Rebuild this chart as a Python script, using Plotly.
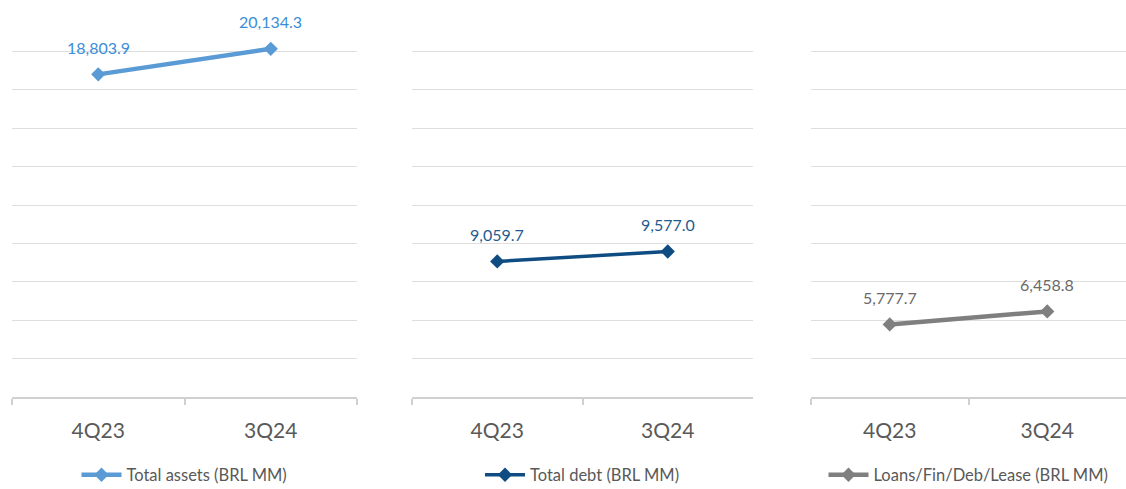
import plotly.graph_objects as go

# Quarter labels and the three balance-sheet series (BRL MM)
quarters = ["4Q23", "3Q24"]
total_assets = [18803.9, 20134.3]
total_debt = [9059.7, 9577.0]
loans_fin_deb_lease = [5777.7, 6458.8]

series_names = ["Total assets (BRL MM)", "Total debt (BRL MM)", "Loans/Fin/Deb/Lease (BRL MM)"]
series_values = [total_assets, total_debt, loans_fin_deb_lease]
line_colors = ["#5B9BD5", "#0E4C82", "#7F7F7F"]
label_colors = ["#3A8DD8", "#1F5B8F", "#6A6A6A"]
line_widths = [4.5, 3.5, 4.5]

W, H = 1126, 489
panels_px = [(12, 357), (412, 753), (811, 1126)]
plot_top_px, plot_bottom_px = 13, 397

FONT = "Lato, 'Open Sans', sans-serif"

fig = go.Figure()
y_dom = [(H - plot_bottom_px) / H, (H - plot_top_px) / H]

for i, (name, vals, lc, tc, lw) in enumerate(zip(series_names, series_values, line_colors, label_colors, line_widths)):
    n = "" if i == 0 else str(i + 1)
    legend_id = "legend" + n
    fig.add_trace(go.Scatter(
        x=quarters, y=vals, name=name, mode="lines+markers",
        line=dict(color=lc, width=lw),
        marker=dict(symbol="diamond", size=11, color=lc),
        xaxis="x" + n, yaxis="y" + n, legend=legend_id,
        hoverinfo="skip",
    ))
    for q, v in zip(quarters, vals):
        fig.add_annotation(
            x=q, y=v, xref="x" + n, yref="y" + n,
            text=f"{v:,.1f}", showarrow=False, yshift=27,
            font=dict(family=FONT, size=16, color=tc),
        )
    x0, x1 = panels_px[i]
    fig.layout["xaxis" + n] = dict(
        domain=[x0 / W, x1 / W], anchor="y" + n, type="category",
        range=[-0.5, 1.5], showgrid=False, showline=True,
        linecolor="#D0D0D0", linewidth=1.5,
        ticks="outside", tickson="boundaries", ticklen=6,
        tickcolor="#D0D0D0", tickwidth=1.5,
        ticklabelstandoff=14,
        tickfont=dict(family=FONT, size=21, color="#595959"),
        fixedrange=True,
    )
    fig.layout["yaxis" + n] = dict(
        domain=y_dom, anchor="x" + n, range=[2000, 22000],
        tick0=2000, dtick=2000, showgrid=True, gridcolor="#DEDEDE",
        gridwidth=1, showticklabels=False, zeroline=False, showline=False,
        fixedrange=True,
    )
    fig.layout[legend_id] = dict(
        x=(x0 + x1) / 2 / W, xanchor="center", y=14 / H, yanchor="middle",
        orientation="h", bgcolor="rgba(0,0,0,0)",
        font=dict(family=FONT, size=16.5, color="#595959"),
        itemwidth=40,
    )

fig.update_layout(
    width=W, height=H, margin=dict(l=0, r=0, t=0, b=0, autoexpand=False),
    paper_bgcolor="white", plot_bgcolor="white",
    showlegend=True,
)

fig.write_html("out.html")
